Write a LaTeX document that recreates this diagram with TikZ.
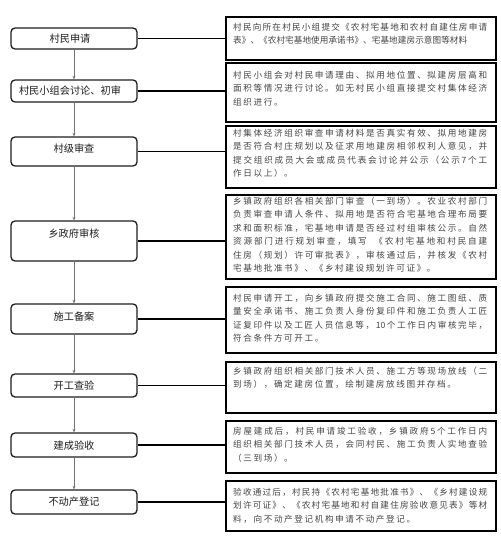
\documentclass[tikz,border=0pt]{standalone}
\usepackage{fontspec}
\setmainfont{Noto Sans CJK SC}
\newfontfamily\cjk{Noto Sans CJK SC}
\usetikzlibrary{arrows.meta}
\newskip\chsk
\def\sprd#1{\ifx\relax#1\unskip\else#1\hskip\chsk\expandafter\sprd\fi}
\newcommand\jl[1]{\hbox to 254pt{\chsk=0pt plus 1fil\sprd#1\relax}}
\newcommand\jlw[2]{\hbox to #1{\chsk=0pt plus 1fil\sprd#2\relax}}
\newcommand\lastl[1]{\hbox{\chsk=1.6pt\sprd#1\relax}}
\definecolor{txtgray}{HTML}{454545}
\definecolor{lbl}{HTML}{1E1E1E}
\begin{document}
\begin{tikzpicture}[x=1pt,y=-1pt,
  stagebox/.style={draw=lbl,line width=1.3pt,rounded corners=4pt,minimum width=126pt,inner sep=0pt},
  stagelbl/.style={font=\cjk\fontsize{10.2}{12}\selectfont,text=lbl,inner sep=0pt},
  descbox/.style={draw=black,line width=1.7pt,minimum width=270pt,inner sep=0pt},
  desctxt/.style={anchor=north west,inner sep=0pt,align=left,text=txtgray,font=\cjk\fontsize{8.6}{13.4}\selectfont},
  link/.style={line width=1.1pt,black},
  flow/.style={line width=0.6pt,draw=black!55,-{Stealth[length=3.5pt,width=3pt]}}]
\fill[white] (0,0) rectangle (500,548);
\useasboundingbox (0,0) rectangle (500,548);
% left stage boxes
\node[stagebox,minimum height=21pt] (L1) at (74,38.5) {};
\node[stagebox,minimum height=22pt] (L2) at (74,91) {};
\node[stagebox,minimum height=29pt] (L3) at (74,151.5) {};
\node[stagebox,minimum height=40pt] (L4) at (74,241) {};
\node[stagebox,minimum height=30pt] (L5) at (74,319) {};
\node[stagebox,minimum height=23pt] (L6) at (74,385.5) {};
\node[stagebox,minimum height=24pt] (L7) at (74,445) {};
\node[stagebox,minimum height=24pt] (L8) at (74,502) {};
\node[stagelbl] (T1) at (70,39) {村民申请};
\node[stagelbl] (T2) at (70,91) {村民小组会讨论、初审};
\node[stagelbl] (T3) at (74,149) {村级审查};
\node[stagelbl] (T4) at (74,234) {乡政府审核};
\node[stagelbl] (T5) at (74,317) {施工备案};
\node[stagelbl] (T6) at (74,386) {开工查验};
\node[stagelbl] (T7) at (74,446) {建成验收};
\node[stagelbl] (T8) at (74,502) {不动产登记};
% right description boxes
\node[descbox,minimum height=43pt] (R1) at (361,38.5) {};
\node[descbox,minimum height=59pt] (R2) at (361,92.5) {};
\node[descbox,minimum height=62pt] (R3) at (361,157) {};
\node[descbox,minimum height=84pt] (R4) at (361,237) {};
\node[descbox,minimum height=66pt] (R5) at (361,320) {};
\node[descbox,minimum height=51pt] (R6) at (361,387.5) {};
\node[descbox,minimum height=52pt] (R7) at (361,447) {};
\node[descbox,minimum height=50pt] (R8) at (361,506) {};
% texts
\node[desctxt] (D1) at (233,23) {\jl{村民向所在村民小组提交《农村宅基地和农村自建住房申请}\\\jlw{234pt}{表》、《农村宅基地使用承诺书》、宅基地建房示意图等材料}};
\node[desctxt] (D2) at (233,71) {\jl{村民小组会对村民申请理由、拟用地位置、拟建房层高和}\\\jl{面积等情况进行讨论。如无村民小组直接提交村集体经济}\\\lastl{组织进行。}};
\node[desctxt] (D3) at (233,129) {\jl{村集体经济组织审查申请材料是否真实有效、拟用地建房}\\\jl{是否符合村庄规划以及征求用地建房相邻权利人意见，并}\\\jl{提交组织成员大会或成员代表会讨论并公示（公示7个工}\\\lastl{作日以上）。}};
\node[desctxt] (D4) at (233,197) {\jl{乡镇政府组织各相关部门审查（一到场）。农业农村部门}\\\jl{负责审查申请人条件、拟用地是否符合宅基地合理布局要}\\\jl{求和面积标准，宅基地申请是否经过村组审核公示。自然}\\\jl{资源部门进行规划审查，填写{\kern4pt}《农村宅基地和村民自建}\\\jl{住房（规划）许可审批表》，审核通过后，并核发《农村}\\\lastl{宅基地批准书》、《乡村建设规划许可证》。}};
\node[desctxt] (D5) at (233,294) {\jl{村民申请开工，向乡镇政府提交施工合同、施工图纸、质}\\\jl{量安全承诺书、施工负责人身份复印件和施工负责人工匠}\\\jl{证复印件以及工匠人员信息等，{10}个工作日内审核完毕，}\\\lastl{符合条件方可开工。}};
\node[desctxt] (D6) at (233,367) {\jl{乡镇政府组织相关部门技术人员、施工方等现场放线（二}\\\lastl{到场），确定建房位置，绘制建房放线图并存档。}};
\node[desctxt] (D7) at (233,427) {\jl{房屋建成后，村民申请竣工验收，乡镇政府5个工作日内}\\\jl{组织相关部门技术人员，会同村民、施工负责人实地查验}\\\lastl{（三到场）。}};
\node[desctxt] (D8) at (233,488) {\jl{验收通过后，村民持《农村宅基地批准书》、《乡村建设规}\\\jl{划许可证》、《农村宅基地和村自建住房验收意见表》等材}\\\lastl{料，向不动产登记机构申请不动产登记。}};
% horizontal links
\foreach \i in {1,...,8} {\draw[link] (L\i.east) -- (L\i.east -| R\i.west);}
% vertical flow arrows
\foreach \a/\b in {1/2,2/3,3/4,4/5,5/6,6/7,7/8} {\draw[flow] (L\a.south) -- (L\b.north);}
\end{tikzpicture}
\end{document}
